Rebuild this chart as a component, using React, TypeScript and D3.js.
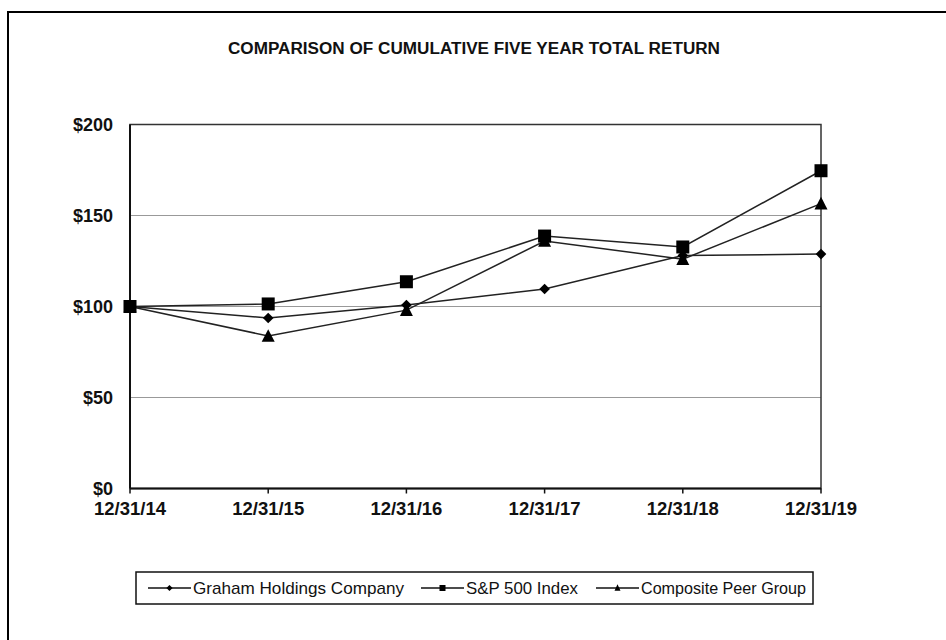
import React from "react";
import * as d3 from "d3";

const categories = ["12/31/14", "12/31/15", "12/31/16", "12/31/17", "12/31/18", "12/31/19"];
const grahamValues = [100, 93.7, 100.8, 109.6, 128, 128.8];
const spValues = [100, 101.4, 113.6, 138.7, 132.7, 174.6];
const peerValues = [100, 83.8, 98, 136, 126, 156.5];
const yTicks = [0, 50, 100, 150, 200];
const seriesNames = ["Graham Holdings Company", "S&P 500 Index", "Composite Peer Group"];

const W = 946, H = 640;
const PL = 130, PR = 821, PT = 124.5, PB = 488.5;

function Marker({ type, x, y, s }: { type: string; x: number; y: number; s: number }) {
  if (type === "diamond") {
    const p = d3.symbol().type(d3.symbolDiamond2).size(s * s * 0.5)();
    return <path d={p!} transform={`translate(${x},${y})`} fill="#000" />;
  }
  if (type === "square") {
    return <rect x={x - s / 2} y={y - s / 2} width={s} height={s} fill="#000" />;
  }
  const h = s * 0.9;
  return <path d={`M${x},${y - h / 2 - 1}L${x + s / 2},${y + h / 2}L${x - s / 2},${y + h / 2}Z`} fill="#000" />;
}

export default function App() {
  const x = d3.scalePoint<string>().domain(categories).range([PL, PR]);
  const y = d3.scaleLinear().domain([0, 200]).range([PB, PT]);
  const line = d3
    .line<number>()
    .x((_, i) => x(categories[i])!)
    .y((d) => y(d));

  const series = [
    { name: seriesNames[0], values: grahamValues, type: "diamond", size: 12 },
    { name: seriesNames[1], values: spValues, type: "square", size: 13 },
    { name: seriesNames[2], values: peerValues, type: "triangle", size: 13 },
  ];

  const legendItems = [
    { lx: 148, tx: 193, tw: 211, type: "diamond" },
    { lx: 421, tx: 466, tw: 112, type: "square" },
    { lx: 596, tx: 641, tw: 165, type: "triangle" },
  ];

  const narrow = "'Liberation Sans Narrow', 'Arial Narrow', 'Liberation Sans', Arial, sans-serif";

  return (
    <svg
      width={W}
      height={H}
      style={{ position: "absolute", left: 0, top: 0, background: "#fff" }}
      fontFamily="'Liberation Sans', Arial, sans-serif"
    >
      <rect x={0} y={0} width={W} height={H} fill="#fff" />
      <rect x={8} y={12} width={W + 20} height={H + 20} fill="none" stroke="#000" strokeWidth={2} />

      <text
        x={474}
        y={54}
        textAnchor="middle"
        fontFamily={narrow}
        fontWeight="bold"
        fontSize={16}
        textLength={492}
        lengthAdjust="spacingAndGlyphs"
        fill="#111"
      >
        COMPARISON OF CUMULATIVE  FIVE YEAR TOTAL RETURN
      </text>

      {yTicks
        .filter((t) => t > 0 && t < 200)
        .map((t) => (
          <line key={t} x1={PL} x2={PR} y1={y(t)} y2={y(t)} stroke="#999" strokeWidth={1.2} />
        ))}

      <rect x={PL} y={PT} width={PR - PL} height={PB - PT} fill="none" stroke="#333" strokeWidth={1.5} />
      <line x1={PL} x2={PR} y1={PB} y2={PB} stroke="#111" strokeWidth={2} />
      <line x1={PL} x2={PL} y1={PT} y2={PB} stroke="#111" strokeWidth={2} />

      {categories.map((c) => (
        <g key={c}>
          <line x1={x(c)} x2={x(c)} y1={PB} y2={PB + 5} stroke="#111" strokeWidth={1.5} />
          <text x={x(c)} y={515} textAnchor="middle" fontWeight="bold" fontSize={18} textLength={72} lengthAdjust="spacingAndGlyphs" fill="#111">
            {c}
          </text>
        </g>
      ))}

      {yTicks.map((t) => (
        <text key={t} x={113} y={y(t) + 6.5} textAnchor="end" fontWeight="bold" fontSize={18} fill="#111">
          ${t}
        </text>
      ))}

      {series.map((s) => (
        <path key={s.name} d={line(s.values)!} fill="none" stroke="#222" strokeWidth={1.5} />
      ))}
      {series.map((s) =>
        s.values.map((v, i) => (
          <Marker key={s.name + i} type={s.type} x={x(categories[i])!} y={y(v)} s={s.size} />
        ))
      )}

      <rect x={136} y={572} width={677} height={32} fill="#fff" stroke="#111" strokeWidth={1.5} />
      {legendItems.map((it, i) => (
        <g key={i}>
          <line x1={it.lx} x2={it.lx + 43} y1={588} y2={588} stroke="#111" strokeWidth={1.5} />
          <Marker type={it.type} x={it.lx + 21.5} y={588} s={it.type === "diamond" ? 7 : 6} />
          <text
            x={it.tx}
            y={594}
            fontFamily={narrow}
            fontSize={17}
            textLength={it.tw}
            lengthAdjust="spacingAndGlyphs"
            fill="#111"
          >
            {seriesNames[i]}
          </text>
        </g>
      ))}
    </svg>
  );
}
